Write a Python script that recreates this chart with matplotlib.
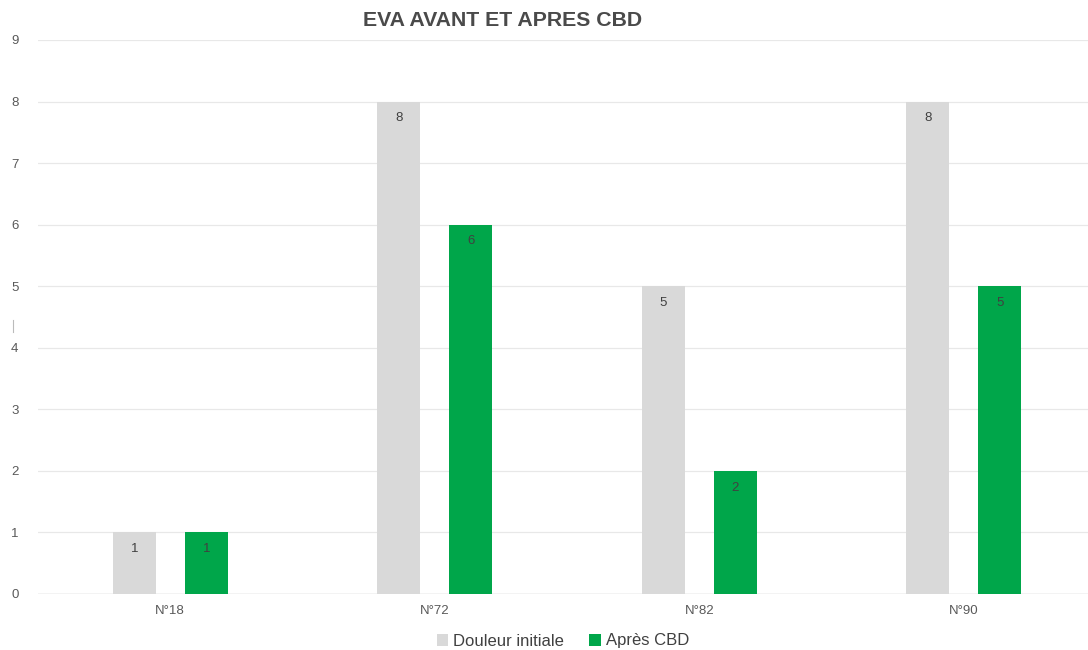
import numpy as np
import matplotlib.pyplot as plt
from matplotlib.lines import Line2D

plt.rcParams['font.family'] = ['Liberation Sans', 'DejaVu Sans']

patients = ['N°18', 'N°72', 'N°82', 'N°90']
douleur_initiale = [1, 8, 5, 8]
apres_cbd = [1, 6, 2, 5]
y_ticks = list(range(0, 10))

grey = '#D9D9D9'
green = '#00A64A'

fig = plt.figure(figsize=(10.88, 6.5), dpi=100)
ax = fig.add_axes([38 / 1088, 1 - 594 / 650, 1058 / 1088, (594 - 40) / 650])

x = np.arange(len(patients))
w = 0.163
off = 0.136
b1 = ax.bar(x - off, douleur_initiale, w, color=grey, label='Douleur initiale', zorder=3)
b2 = ax.bar(x + off, apres_cbd, w, color=green, label='Après CBD', zorder=3)

for bars in (b1, b2):
    for r in bars:
        h = r.get_height()
        ax.text(r.get_x() + r.get_width() / 2, h - 0.27, f'{h:g}', ha='center', va='center',
                fontsize=9.5, color='#404040', zorder=4)

ax.set_xlim(-0.5, len(patients) - 0.5)
ax.set_ylim(0, 9)
ax.set_yticks(y_ticks)
ax.set_xticks(x)
ax.set_xticklabels(patients)
ax.tick_params(axis='both', length=0, labelsize=9.5, labelcolor='#595959')
ax.tick_params(axis='y', pad=14)
ax.tick_params(axis='x', pad=8)
ax.grid(axis='y', color='#E8E8E8', linewidth=0.9, zorder=0)
for s in ax.spines.values():
    s.set_visible(False)
ax.axhline(0, color='#CFCFCF', linewidth=1.0, zorder=2)

fig.text(503 / 1088, 1 - 21 / 650, 'EVA AVANT ET APRES CBD', ha='center', va='center',
         fontsize=15.3, fontweight='bold', color='#4A4A4A')

fig.legend(handles=[b1, b2], loc='center', bbox_to_anchor=(563 / 1088, 1 - 641 / 650),
           ncol=2, frameon=False, fontsize=12, handlelength=0.7, handleheight=0.7,
           handletextpad=0.3, columnspacing=1.5, labelcolor='#404040')

# small stray tick at the left edge
fig.add_artist(Line2D([13 / 1088, 13 / 1088], [1 - 320 / 650, 1 - 332 / 650],
                      color='#BBBBBB', linewidth=0.8))

fig.savefig('out.png', dpi=100)
